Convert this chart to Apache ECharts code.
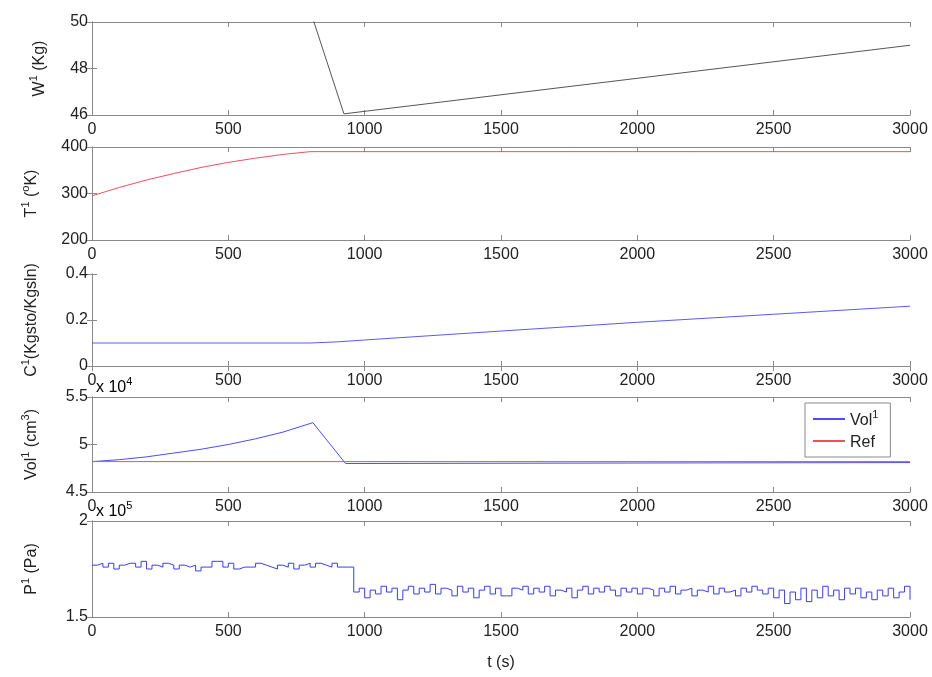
<!DOCTYPE html>
<html>
<head>
    <meta charset="utf-8">
    <title>ECharts</title>
    <script src="https://cdn.jsdelivr.net/npm/echarts@6/dist/echarts.min.js"></script>
</head>
<body style="margin:0;background:#fff">
    <div id="main" style="width: 932px;height:677px;"></div>
    <script type="text/javascript">
        // W (Kg): weight, clipped above 50
        var wTime = [0, 800, 924, 3000];
        var wVal = [50.5, 50.5, 46.05, 49.0];

        // T (K)
        var tTime = [0, 100, 200, 300, 400, 500, 600, 700, 800, 3000];
        var tVal = [295, 313, 329, 343, 356, 367, 376, 384, 390, 390];

        // C (Kgsto/Kgsln)
        var cTime = [0, 800, 900, 1000, 1500, 2000, 2500, 3000];
        var cVal = [0.1, 0.1, 0.105, 0.113, 0.152, 0.19, 0.225, 0.26];

        // Vol (x 10^4 cm3)
        var volTime = [0, 100, 200, 300, 400, 500, 600, 700, 810, 930, 3000];
        var volVal = [4.82, 4.84, 4.87, 4.91, 4.95, 5.0, 5.06, 5.13, 5.23, 4.80, 4.81];
        var refTime = [0, 3000];
        var refVal = [4.82, 4.82];

        // P (x 10^5 Pa), sampled every 20 s
        var pStep = 20;
        var pVal = [
            1.77, 1.78, 1.76, 1.78, 1.75, 1.77, 1.78, 1.78, 1.76, 1.79,
            1.75, 1.77, 1.76, 1.78, 1.77, 1.75, 1.77, 1.76, 1.77, 1.74,
            1.76, 1.76, 1.79, 1.79, 1.76, 1.78, 1.75, 1.76, 1.76, 1.76,
            1.78, 1.77, 1.76, 1.75, 1.77, 1.76, 1.78, 1.75, 1.77, 1.78,
            1.76, 1.78, 1.77, 1.76, 1.78, 1.76, 1.76, 1.76,
            1.63, 1.65, 1.60, 1.64, 1.62, 1.66, 1.63, 1.65, 1.59, 1.64,
            1.66, 1.62, 1.65, 1.63, 1.67, 1.62, 1.65, 1.64, 1.61, 1.66,
            1.63, 1.65, 1.60, 1.64, 1.66, 1.62, 1.65, 1.61, 1.61, 1.65,
            1.64, 1.66, 1.62, 1.65, 1.63, 1.66, 1.61, 1.64, 1.63, 1.65,
            1.60, 1.64, 1.66, 1.62, 1.65, 1.63, 1.66, 1.64, 1.61, 1.65,
            1.63, 1.65, 1.62, 1.65, 1.64, 1.61, 1.65, 1.63, 1.66, 1.62,
            1.64, 1.65, 1.61, 1.64, 1.63, 1.66, 1.62, 1.65, 1.63, 1.64,
            1.61, 1.65, 1.63, 1.66, 1.64, 1.62, 1.65, 1.60, 1.64, 1.57,
            1.63, 1.59, 1.65, 1.58, 1.64, 1.60, 1.66, 1.61, 1.64, 1.59,
            1.65, 1.62, 1.65, 1.60, 1.63, 1.59, 1.64, 1.61, 1.65, 1.60,
            1.63, 1.66, 1.59
        ];

        function pairs(xs, ys) {
            var out = [];
            for (var i = 0; i < xs.length; i++) out.push([xs[i], ys[i]]);
            return out;
        }
        var pData = [];
        for (var i = 0; i < pVal.length; i++) pData.push([i * pStep, pVal[i]]);

        var font = 'Liberation Sans, Arial, sans-serif';
        var axisColor = '#8a8a8a';
        var textColor = '#222';
        var rich = {
            b: {color: textColor, fontSize: 16, fontFamily: font, lineHeight: 20, verticalAlign: 'bottom'},
            s: {color: textColor, fontSize: 11, fontFamily: font, lineHeight: 20, verticalAlign: 'top'}
        };

        var panels = [
            {top: 22, height: 93, min: 46, max: 50, interval: 2, name: '{b|W}{s|1}{b| (Kg)}', gap: 44},
            {top: 147, height: 93, min: 200, max: 400, interval: 100, name: '{b|T}{s|1}{b| (}{s|o}{b|K)}', gap: 52},
            {top: 274, height: 92, min: 0, max: 0.4, interval: 0.2, name: '{b|C}{s|1}{b|(Kgsto/Kgsln)}', gap: 52},
            {top: 397, height: 95, min: 4.5, max: 5.5, interval: 0.5, name: '{b|Vol}{s|1}{b| (cm}{s|3}{b|)}', gap: 52},
            {top: 521, height: 96, min: 1.5, max: 2, interval: 0.5, name: '{b|P}{s|1}{b| (Pa)}', gap: 52}
        ];

        var grids = [], xAxes = [], yAxes = [];
        panels.forEach(function (p, k) {
            grids.push({left: 92, width: 818, top: p.top, height: p.height});
            var line = {show: true, lineStyle: {color: axisColor, width: 1}};
            var tick = {show: true, inside: true, length: 5, lineStyle: {color: axisColor}};
            xAxes.push({
                type: 'value', gridIndex: k, min: 0, max: 3000, interval: 500,
                axisLine: line, axisTick: tick, splitLine: {show: false},
                axisLabel: {color: textColor, fontSize: 16, fontFamily: font, margin: 7,
                    formatter: function (v) { return String(v); }},
                name: k === 4 ? 't (s)' : '', nameLocation: 'middle', nameGap: 38,
                nameTextStyle: {color: textColor, fontSize: 16, fontFamily: font}
            });
            xAxes.push({
                type: 'value', gridIndex: k, position: 'top', min: 0, max: 3000, interval: 500,
                axisLine: line, axisTick: tick, splitLine: {show: false}, axisLabel: {show: false}
            });
            yAxes.push({
                type: 'value', gridIndex: k, min: p.min, max: p.max, interval: p.interval,
                axisLine: line, axisTick: tick, splitLine: {show: false},
                axisLabel: {color: textColor, fontSize: 16, fontFamily: font, margin: 4},
                name: p.name, nameLocation: 'middle', nameRotate: 90, nameGap: p.gap,
                nameTextStyle: {rich: rich}
            });
            yAxes.push({
                type: 'value', gridIndex: k, position: 'right', min: p.min, max: p.max, interval: p.interval,
                axisLine: line, axisTick: tick, splitLine: {show: false}, axisLabel: {show: false}
            });
        });

        function lineSeries(name, data, k, color, step) {
            return {
                name: name, type: 'line', data: data,
                xAxisIndex: 2 * k, yAxisIndex: 2 * k,
                symbol: 'none', clip: true, step: step || false,
                lineStyle: {color: color, width: 1}, itemStyle: {color: color},
                animation: false
            };
        }

        var myChart = echarts.init(document.getElementById('main'));
        var option = {
            backgroundColor: '#fff',
            animation: false,
            grid: grids,
            xAxis: xAxes,
            yAxis: yAxes,
            legend: {
                data: ['Vol¹', 'Ref'],
                orient: 'vertical', left: 805, top: 403,
                backgroundColor: '#fff', borderColor: axisColor, borderWidth: 1,
                padding: [6, 12, 6, 8], itemGap: 6,
                itemWidth: 32, itemHeight: 2, icon: 'rect',
                formatter: function (n) { return n === 'Ref' ? '{b|Ref}' : '{b|Vol}{s|1}'; },
                textStyle: {color: textColor, fontSize: 16, fontFamily: font, rich: rich}
            },
            graphic: [
                {type: 'text', left: 96, top: 376, style: {text: '{b|x 10}{s|4}', rich: rich}},
                {type: 'text', left: 96, top: 500, style: {text: '{b|x 10}{s|5}', rich: rich}}
            ],
            series: [
                lineSeries('W', pairs(wTime, wVal), 0, '#555555'),
                lineSeries('T', pairs(tTime, tVal), 1, '#ee5060'),
                lineSeries('C', pairs(cTime, cVal), 2, '#5a5af0'),
                lineSeries('Vol¹', pairs(volTime, volVal), 3, '#4d4df2'),
                lineSeries('Ref', pairs(refTime, refVal), 3, '#ee5060'),
                lineSeries('P', pData, 4, '#3c3cf0', 'end')
            ]
        };
        myChart.setOption(option);
    </script>
</body>
</html>
